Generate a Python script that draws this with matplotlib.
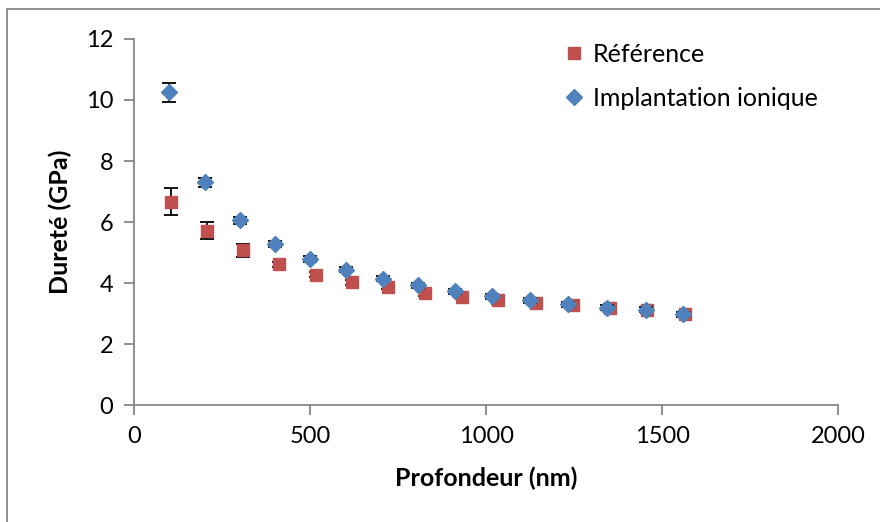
import matplotlib.pyplot as plt
from matplotlib.patches import Rectangle

plt.rcParams['font.family'] = ['Lato', 'DejaVu Sans']

# Référence (carrés rouges)
ref_x = [105, 208, 311, 413, 516, 619, 722, 827, 931, 1035, 1142, 1246, 1352, 1456, 1565]
ref_y = [6.67, 5.71, 5.07, 4.61, 4.27, 4.02, 3.87, 3.67, 3.54, 3.43, 3.36, 3.29, 3.19, 3.11, 3.00]
ref_err = [0.43, 0.28, 0.21, 0.08, 0.08, 0.08, 0.08, 0.08, 0.08, 0.12, 0.08, 0.12, 0.12, 0.08, 0.08]

# Implantation ionique (losanges bleus)
imp_x = [100, 202, 301, 401, 500, 602, 706, 808, 912, 1018, 1125, 1232, 1343, 1454, 1560]
imp_y = [10.25, 7.30, 6.05, 5.29, 4.80, 4.44, 4.14, 3.92, 3.73, 3.56, 3.43, 3.30, 3.19, 3.13, 2.97]
imp_err = [0.32, 0.15, 0.12, 0.1, 0.1, 0.08, 0.08, 0.08, 0.08, 0.08, 0.08, 0.08, 0.08, 0.08, 0.08]

fig = plt.figure(figsize=(8.8, 5.22), dpi=100)
ax = fig.add_axes([0.1523, 0.2241, 0.8, 0.7012])

c1 = ax.errorbar(ref_x, ref_y, yerr=ref_err, fmt='s', color='#C0504D', ms=9,
                 ecolor='black', elinewidth=1.3, capsize=5, capthick=1.3,
                 label='Référence', zorder=3)
c2 = ax.errorbar(imp_x, imp_y, yerr=imp_err, fmt='D', color='#4F81BD', ms=8.5,
                 ecolor='black', elinewidth=1.3, capsize=5, capthick=1.3,
                 label='Implantation ionique', zorder=4)

ax.set_xlim(0, 2000)
ax.set_ylim(0, 12)
ax.set_xticks(range(0, 2001, 500))
ax.set_yticks(range(0, 13, 2))

for s in ['top', 'right']:
    ax.spines[s].set_visible(False)
for s in ['left', 'bottom']:
    ax.spines[s].set_color('#868686')
    ax.spines[s].set_linewidth(1.3)
ax.tick_params(axis='both', colors='#868686', length=7, width=1.3,
               labelsize=17, labelcolor='black', pad=8)

ax.set_xlabel('Profondeur (nm)', fontsize=18, fontweight='bold', labelpad=14)
ax.set_ylabel('Dureté (GPa)', fontsize=18, fontweight='bold', labelpad=10)

leg = ax.legend(handles=[c1[0], c2[0]], labels=['Référence', 'Implantation ionique'],
                loc='upper left', bbox_to_anchor=(0.584, 1.017), frameon=False,
                fontsize=18, handletextpad=0.0, labelspacing=0.85,
                handlelength=1.5, borderaxespad=0)

# cadre du graphique
fig.patches.append(Rectangle((7 / 880, -0.05), 1.2, 1 - 9 / 522 + 0.05,
                             transform=fig.transFigure, fill=False,
                             edgecolor='#868686', linewidth=1.3))

fig.savefig('out.png', dpi=100)
